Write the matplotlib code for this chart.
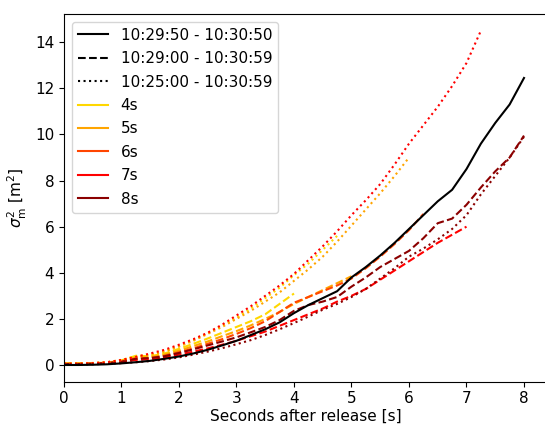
import matplotlib
matplotlib.use('Agg')
import matplotlib.pyplot as plt
from matplotlib.lines import Line2D

# time after release [s]
t = [0, 0.25, 0.5, 0.75, 1, 1.25, 1.5, 1.75, 2, 2.25, 2.5, 2.75, 3, 3.25, 3.5, 3.75,
     4, 4.25, 4.5, 4.75, 5, 5.25, 5.5, 5.75, 6, 6.25, 6.5, 6.75, 7, 7.25, 7.5, 7.75, 8]

# 10:29:50 - 10:30:50 (solid)
solid_black = [0, 0, 0.01, 0.03, 0.07, 0.12, 0.18, 0.27, 0.37, 0.5, 0.66, 0.85, 1.05, 1.3, 1.55, 1.85,
               2.25, 2.6, 2.9, 3.2, 3.8, 4.25, 4.75, 5.3, 5.9, 6.5, 7.1, 7.6, 8.5, 9.6, 10.5, 11.3, 12.45]

# 10:29:00 - 10:30:59 (dashed)
dashed_4s = [0.08, 0.08, 0.08, 0.1, 0.2, 0.4, 0.38, 0.5, 0.7, 0.92, 1.15, 1.4, 1.65, 1.9, 2.2, 2.65, 3.1]
dashed_5s = [0.06, 0.06, 0.07, 0.09, 0.18, 0.33, 0.33, 0.45, 0.62, 0.82, 1.02, 1.25, 1.47, 1.72, 2.0,
             2.3, 2.65, 2.95, 3.25, 3.55, 3.85]
dashed_6s = [0.05, 0.05, 0.06, 0.08, 0.15, 0.28, 0.3, 0.4, 0.55, 0.72, 0.92, 1.12, 1.35, 1.6, 1.9, 2.3,
             2.7, 2.95, 3.2, 3.45, 3.75, 4.2, 4.7, 5.25, 5.85, 6.55]
dashed_7s = [0.04, 0.04, 0.05, 0.07, 0.12, 0.22, 0.25, 0.33, 0.45, 0.58, 0.72, 0.88, 1.05, 1.25, 1.45,
             1.7, 1.95, 2.2, 2.45, 2.75, 3.0, 3.3, 3.7, 4.1, 4.5, 4.9, 5.3, 5.65, 6.0]
dashed_8s = [0.04, 0.04, 0.05, 0.08, 0.14, 0.27, 0.3, 0.38, 0.52, 0.68, 0.85, 1.02, 1.2, 1.42, 1.65,
             1.95, 2.35, 2.6, 2.75, 2.95, 3.4, 3.8, 4.25, 4.6, 4.95, 5.5, 6.15, 6.35, 6.95, 7.7, 8.4, 9.0, 9.95]

# 10:25:00 - 10:30:59 (dotted)
dotted_4s = [0.08, 0.08, 0.09, 0.12, 0.22, 0.38, 0.45, 0.6, 0.82, 1.08, 1.38, 1.7, 2.05, 2.45, 2.9,
             3.35, 3.9, 4.4, 5.0, 5.6]
dotted_5s = [0.07, 0.07, 0.08, 0.12, 0.22, 0.35, 0.43, 0.58, 0.8, 1.05, 1.35, 1.65, 2.0, 2.35, 2.75,
             3.15, 3.65, 4.15, 4.7, 5.35, 6.05, 6.75, 7.45, 8.2, 9.0]
dotted_7s = [0.06, 0.06, 0.08, 0.12, 0.22, 0.35, 0.5, 0.66, 0.88, 1.12, 1.4, 1.75, 2.15, 2.55, 3.0,
             3.45, 3.95, 4.55, 5.15, 5.8, 6.5, 7.15, 7.85, 8.7, 9.6, 10.4, 11.2, 12.1, 13.1, 14.5]
dotted_8s = [0.02, 0.02, 0.03, 0.05, 0.08, 0.12, 0.17, 0.24, 0.33, 0.45, 0.58, 0.73, 0.9, 1.08, 1.3,
             1.55, 1.82, 2.1, 2.4, 2.65, 2.95, 3.3, 3.75, 4.2, 4.7, 5.05, 5.45, 5.9, 6.5, 7.4, 8.2, 9.0, 9.9]

windows = ['4s', '5s', '6s', '7s', '8s']
colors = ['gold', 'orange', 'orangered', 'red', 'darkred']
periods = ['10:29:50 - 10:30:50', '10:29:00 - 10:30:59', '10:25:00 - 10:30:59']

plt.rcParams['font.size'] = 11
fig = plt.figure(figsize=(5.45, 4.25), dpi=100)
ax = fig.add_axes([64 / 545, 43.3 / 425, 483 / 545, 367.7 / 425])

dashed = [dashed_4s, dashed_5s, dashed_6s, dashed_7s, dashed_8s]
for y, c in zip(dashed, colors):
    ax.plot(t[:len(y)], y, '--', color=c)

dotted = {'gold': dotted_4s, 'orange': dotted_5s, 'red': dotted_7s, 'darkred': dotted_8s}
for c, y in dotted.items():
    ax.plot(t[:len(y)], y, ':', color=c)

ax.plot(t, solid_black, '-', color='black')

handles = [Line2D([], [], color='black', ls=s) for s in ['-', '--', ':']]
handles += [Line2D([], [], color=c) for c in colors]
ax.legend(handles, periods + windows, loc='upper left', labelspacing=0.55)

ax.set_xlim(0, 8.4)
ax.set_xlabel('Seconds after release [s]', labelpad=2)
ax.set_ylabel(r'$\sigma_\mathrm{m}^2$ [m$^2$]')

fig.savefig('out.png', dpi=100)
